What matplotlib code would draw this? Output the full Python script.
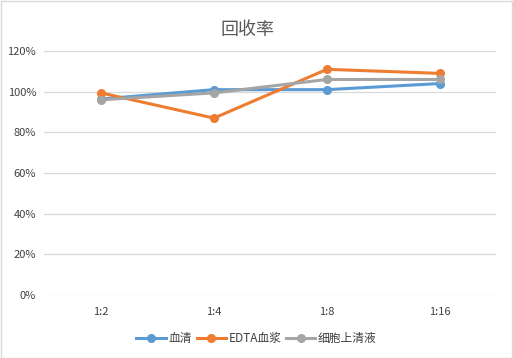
import matplotlib
matplotlib.use('Agg')
import matplotlib.pyplot as plt
from matplotlib.ticker import PercentFormatter

plt.rcParams['font.family'] = ['Noto Sans CJK SC', 'DejaVu Sans']

# datos
categories = ['1:2', '1:4', '1:8', '1:16']
serum = [0.964, 1.01, 1.01, 1.04]
edta_plasma = [0.994, 0.87, 1.11, 1.09]
supernatant = [0.96, 0.994, 1.06, 1.06]
series_names = ['血清', 'EDTA血浆', '细胞上清液']
colors = ['#5B9BD5', '#ED7D31', '#A5A5A5']

fig = plt.figure(figsize=(5.13, 3.58), dpi=100)
ax = fig.add_axes([0.0867, 0.176, 0.881, 0.6815])

x = range(len(categories))
for vals, name, c in zip([serum, edta_plasma, supernatant], series_names, colors):
    ax.plot(x, vals, color=c, linewidth=2.2, marker='o', markersize=5.5, label=name)

ax.set_xlim(-0.5, len(categories) - 0.5)
ax.set_ylim(0, 1.2)
ax.set_yticks([0, 0.2, 0.4, 0.6, 0.8, 1.0, 1.2])
ax.yaxis.set_major_formatter(PercentFormatter(1.0, decimals=0))
ax.set_xticks(list(x))
ax.set_xticklabels(categories)
ax.grid(axis='y', color='#D9D9D9', linewidth=0.9)
ax.set_axisbelow(True)
for s in ax.spines.values():
    s.set_visible(False)
ax.tick_params(length=0, labelsize=8, labelcolor='#404040')
ax.tick_params(axis='x', pad=9)
ax.tick_params(axis='y', pad=6)

fig.text(0.483, 0.915, '回收率', ha='center', va='center', fontsize=13, color='#595959')

fig.legend(loc='center', bbox_to_anchor=(0.5, 0.055), ncol=3, frameon=False,
           fontsize=8.5, handlelength=2.5, handletextpad=0.2, columnspacing=0.4,
           labelcolor='#404040')

fig.patches.append(plt.Rectangle((0.001, 0.001), 0.997, 0.996, transform=fig.transFigure,
                                 fill=False, edgecolor='#D9D9D9', linewidth=1))

fig.savefig('out.png', dpi=100)
